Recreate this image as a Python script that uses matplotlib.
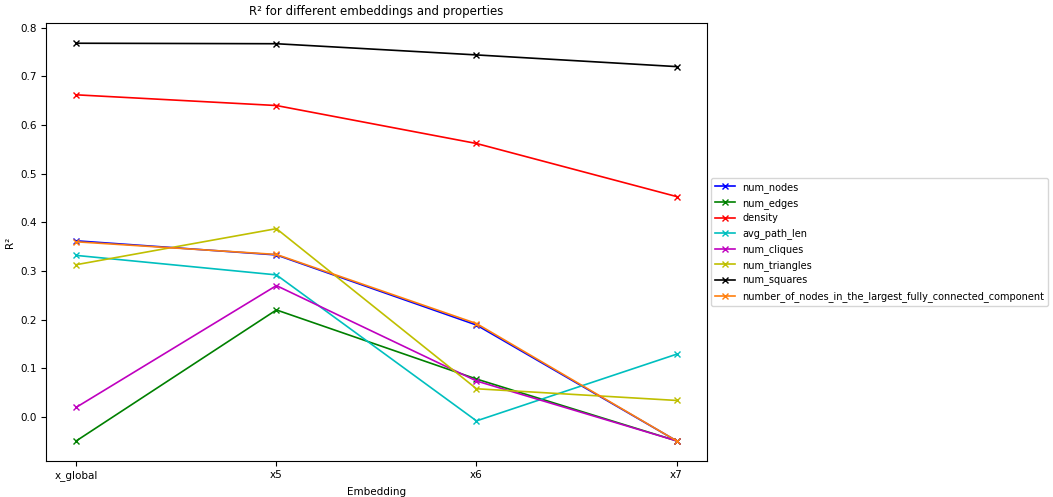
import matplotlib
matplotlib.use("Agg")
import matplotlib.pyplot as plt

embeddings = ["x_global", "x5", "x6", "x7"]

num_nodes = [0.362, 0.333, 0.189, -0.049]
num_edges = [-0.049, 0.220, 0.078, -0.049]
density = [0.662, 0.640, 0.562, 0.453]
avg_path_len = [0.332, 0.292, -0.008, 0.129]
num_cliques = [0.020, 0.270, 0.074, -0.049]
num_triangles = [0.313, 0.387, 0.058, 0.034]
num_squares = [0.768, 0.767, 0.744, 0.720]
largest_component = [0.360, 0.334, 0.192, -0.049]

series = [
    ("num_nodes", num_nodes, "b"),
    ("num_edges", num_edges, "g"),
    ("density", density, "r"),
    ("avg_path_len", avg_path_len, "c"),
    ("num_cliques", num_cliques, "m"),
    ("num_triangles", num_triangles, "y"),
    ("num_squares", num_squares, "k"),
    ("number_of_nodes_in_the_largest_fully_connected_component", largest_component, "tab:orange"),
]

plt.rcParams["font.size"] = 7.5

fig, ax = plt.subplots(figsize=(10.53, 4.97), dpi=100)
fig.subplots_adjust(left=0.044, right=0.671, top=0.953, bottom=0.073)

for name, vals, col in series:
    ax.plot(embeddings, vals, marker="x", color=col, label=name, linewidth=1.2, markersize=5)

ax.set_title("R² for different embeddings and properties", fontsize=8.5)
ax.set_xlabel("Embedding")
ax.set_ylabel("R²")
ax.legend(loc="center left", bbox_to_anchor=(1.0, 0.5), fontsize=7.0)

fig.savefig("out.png")
